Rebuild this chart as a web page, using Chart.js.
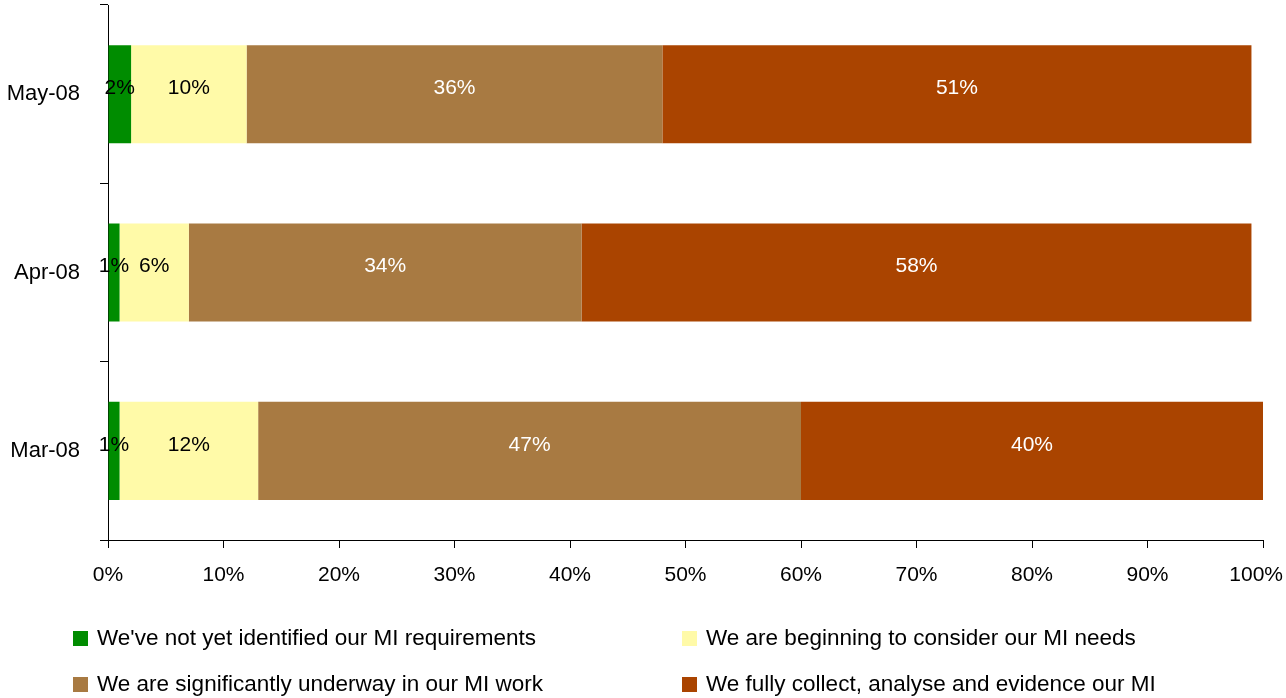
<!DOCTYPE html>
<html>
<head>
<meta charset="utf-8">
<title>MI progress</title>
<script src="https://cdn.jsdelivr.net/npm/chart.js@4.4.0/dist/chart.umd.min.js"></script>
<style>
  html, body { margin: 0; padding: 0; background: #fff; }
  #wrap { position: relative; width: 1286px; height: 698px; }
</style>
</head>
<body>
<div id="wrap"><canvas id="miChart"></canvas></div>
<script>
const categories = ['May-08', 'Apr-08', 'Mar-08'];
const seriesNames = [
  "We've not yet identified our MI requirements",
  'We are beginning to consider our MI needs',
  'We are significantly underway in our MI work',
  'We fully collect, analyse and evidence our MI'
];
const notYet = [2, 1, 1];
const beginning = [10, 6, 12];
const underway = [36, 34, 47];
const fully = [51, 58, 40];
const xTicks = [0, 10, 20, 30, 40, 50, 60, 70, 80, 90, 100];

const colours = ['#008c00', '#fffaa8', '#a87a42', '#aa4400'];
const labelColours = ['#000', '#000', '#fff', '#fff'];
const FONT = '"Liberation Sans", Arial, sans-serif';

// percentages written in the middle of each segment
const segmentLabels = {
  id: 'segmentLabels',
  afterDatasetsDraw(chart) {
    const ctx = chart.ctx;
    ctx.save();
    ctx.font = '21px ' + FONT;
    ctx.textAlign = 'center';
    ctx.textBaseline = 'middle';
    chart.data.datasets.forEach((ds, i) => {
      chart.getDatasetMeta(i).data.forEach((el, j) => {
        ctx.fillStyle = labelColours[i];
        ctx.fillText(ds.data[j] + '%', (el.x + el.base) / 2, el.y - 6);
      });
    });
    ctx.restore();
  }
};

// x tick labels, the last one pulled back inside the canvas edge
const xLabels = {
  id: 'xLabels',
  afterDraw(chart) {
    const ctx = chart.ctx;
    const sx = chart.scales.x;
    ctx.save();
    ctx.font = '21px ' + FONT;
    ctx.fillStyle = '#000';
    ctx.textAlign = 'center';
    ctx.textBaseline = 'middle';
    xTicks.forEach(v => {
      const txt = v + '%';
      const w = ctx.measureText(txt).width;
      const x = Math.min(sx.getPixelForValue(v), chart.width - w / 2 - 3);
      ctx.fillText(txt, x, sx.top + 35);
    });
    ctx.restore();
  }
};

// two-column legend under the axis
const gridLegend = {
  id: 'gridLegend',
  afterDraw(chart, args, opts) {
    const ctx = chart.ctx;
    ctx.save();
    chart.data.datasets.forEach((ds, i) => {
      const x = opts.cols[i % 2];
      const y = opts.rows[Math.floor(i / 2)];
      ctx.fillStyle = ds.backgroundColor;
      ctx.fillRect(x, y - 8, 15, 15);
      ctx.font = '22.5px ' + FONT;
      ctx.fillStyle = '#000';
      ctx.textBaseline = 'middle';
      ctx.fillText(ds.label, x + 24, y);
    });
    ctx.restore();
  }
};

// keep the plot box fixed: no extra room for half-labels at the ends
function noEdgePadding(scale) {
  scale.paddingLeft = 0;
  scale.paddingRight = 0;
  scale.paddingTop = 0;
  scale.paddingBottom = 0;
}

const values = [notYet, beginning, underway, fully];

new Chart(document.getElementById('miChart'), {
  type: 'bar',
  data: {
    labels: categories,
    datasets: values.map((v, i) => ({
      label: seriesNames[i],
      data: v,
      backgroundColor: colours[i],
      borderWidth: 0,
      categoryPercentage: 1,
      barPercentage: 0.55
    }))
  },
  options: {
    indexAxis: 'y',
    responsive: true,
    maintainAspectRatio: false,
    animation: false,
    layout: { padding: { top: 5, right: 23, bottom: 98, left: 0 } },
    plugins: {
      legend: { display: false },
      tooltip: { enabled: false },
      gridLegend: { cols: [73, 682], rows: [639, 685] }
    },
    scales: {
      x: {
        stacked: true,
        min: 0,
        max: 100,
        afterBuildTicks(scale) { scale.ticks = xTicks.map(v => ({ value: v })); },
        ticks: {
          color: 'rgba(0,0,0,0)',
          font: { family: FONT, size: 21 },
          padding: 14,
          maxRotation: 0
        },
        grid: { drawOnChartArea: false, tickLength: 8, color: '#000' },
        border: { color: '#000', width: 1 },
        afterFit(scale) { scale.height = 60; noEdgePadding(scale); }
      },
      y: {
        stacked: true,
        ticks: {
          color: '#000',
          font: { family: FONT, size: 22 },
          padding: 20
        },
        grid: { drawOnChartArea: false, tickLength: 8, color: '#000', offset: true },
        border: { color: '#000', width: 1 },
        afterFit(scale) { scale.width = 108; noEdgePadding(scale); }
      }
    }
  },
  plugins: [segmentLabels, xLabels, gridLegend]
});
</script>
</body>
</html>
